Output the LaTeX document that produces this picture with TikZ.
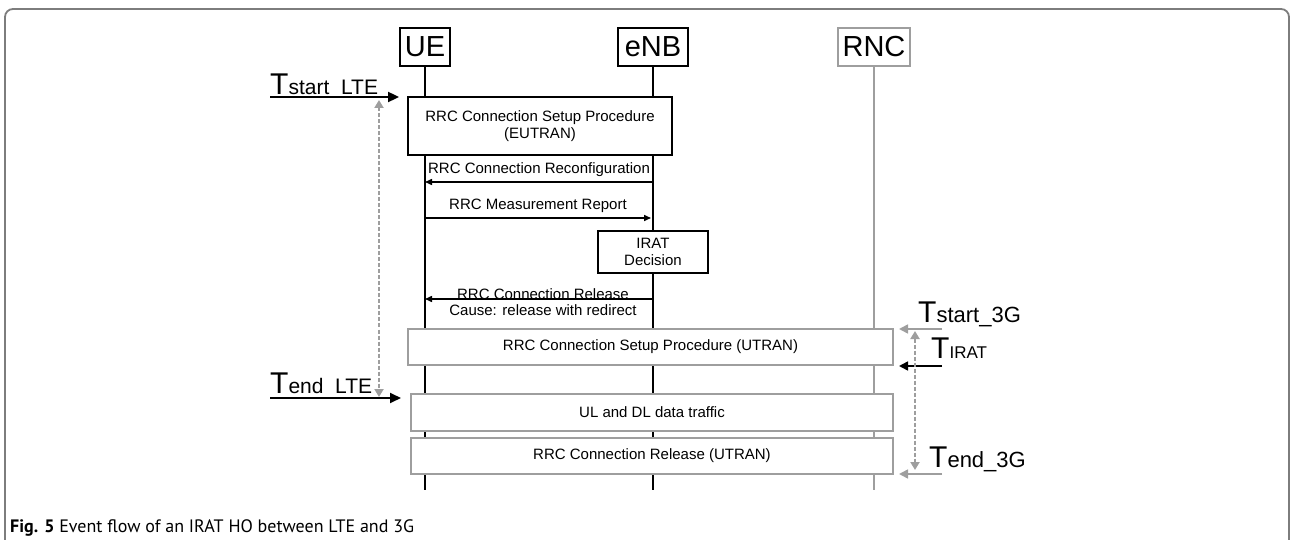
\documentclass[tikz,border=0pt]{standalone}
\usepackage{fontspec}
\setmainfont{Liberation Sans}
\newfontfamily\capfont{PT Sans}
\usetikzlibrary{arrows.meta}

\definecolor{lgray}{RGB}{158,158,158}
\definecolor{fgray}{RGB}{125,125,125}

\begin{document}
\begin{tikzpicture}[x=1pt, y=-1pt,
  hdr/.style={draw, rectangle, line width=1.6pt, inner sep=0pt, font=\fontsize{29}{29}\selectfont},
  blkbox/.style={draw, rectangle, fill=white, line width=1.8pt, inner sep=0pt, align=center, font=\fontsize{15}{17}\selectfont},
  grybox/.style={draw=lgray, rectangle, fill=white, line width=2pt, inner sep=0pt, align=center, font=\fontsize{15}{17}\selectfont},
  msg/.style={line width=1.5pt, -{Triangle[length=7pt, width=6pt]}},
  tarrow/.style={line width=1.8pt, -{Triangle[length=11pt, width=10pt]}},
  dbl/.style={draw=lgray, line width=2pt, dash pattern=on 4pt off 2pt, {Triangle[length=8pt, width=9pt]}-{Triangle[length=8pt, width=9pt]}},
  lbl/.style={inner sep=0pt, font=\fontsize{15}{17}\selectfont},
  tlbl/.style={inner sep=0pt, anchor=base west}]

\useasboundingbox (0,0) rectangle (1291,540);

% outer frame
\draw[fgray, line width=1.8pt, rounded corners=8pt] (5,541) -- (5,9) -- (1289,9) -- (1289,541);

% entities
\node[hdr, minimum width=50pt, minimum height=38pt] (ue) at (425,47) {UE};
\node[hdr, minimum width=70pt, minimum height=38pt] (enb) at (653,47) {eNB};
\node[hdr, draw=lgray, minimum width=72pt, minimum height=38pt] (rnc) at (874,47) {RNC};

% lifelines
\draw[line width=1.7pt] (ue.south) -- (ue |- 0,490);
\draw[line width=1.7pt] (enb.south) -- (enb |- 0,490);
\draw[lgray, line width=1.9pt] (rnc.south) -- (rnc |- 0,490);

% LTE part
\node[blkbox, minimum width=264pt, minimum height=58pt] (setupE) at (540,126) {RRC Connection Setup Procedure\\(EUTRAN)};

\draw[msg] (enb |- 0,182) -- (ue |- 0,182) node[lbl, midway, above=5pt] (reconf) {RRC Connection Reconfiguration};
\draw[msg] (ue |- 0,218) -- ([xshift=-2pt]enb |- 0,218) node[lbl, midway, above=5pt] (meas) {RRC Measurement Report};

\node[blkbox, minimum width=110pt, minimum height=42pt] (irat) at (653,252) {IRAT\\Decision};

\draw[msg] (enb |- 0,299) -- (ue |- 0,299);
\node[lbl, anchor=base] (rel) at (543,299) {RRC Connection Release};
\node[lbl, anchor=base] (cause) at (543,316) {Cause: release with redirect};

% UTRAN part
\node[grybox, minimum width=485pt, minimum height=36pt] (utran) at (650.5,347) {RRC Connection Setup Procedure (UTRAN)};
\node[grybox, minimum width=482pt, minimum height=37pt] (data) at (652,412) {UL and DL data traffic};
\node[grybox, minimum width=482pt, minimum height=36pt] (relU) at (652,456) {RRC Connection Release (UTRAN)};

% LTE timers
\node[tlbl] (tsl) at (270,95) {\fontsize{30}{30}\selectfont T\fontsize{21}{21}\selectfont start\ \ LTE};
\node[tlbl] (tel) at (270,393) {\fontsize{30}{30}\selectfont T\fontsize{21}{21}\selectfont end\ \ LTE};
\coordinate (tsA) at (270,97);
\coordinate (teA) at (270,398);
\draw[tarrow, shorten >=8pt] (tsA) -- (setupE.west |- tsA);
\draw[tarrow, shorten >=9pt] (teA) -- (data.west |- teA);
\coordinate (lteT) at (379,100);
\coordinate (lteB) at (379,397);
\draw[dbl] (lteT) -- (lteB);

% 3G timers
\node[tlbl] (ts3) at (918,322) {\fontsize{30}{30}\selectfont T\fontsize{22}{22}\selectfont start\_3G};
\node[tlbl] (tir) at (931,358) {\fontsize{30}{30}\selectfont T\fontsize{17}{17}\selectfont IRAT};
\node[tlbl] (te3) at (929,467) {\fontsize{30}{30}\selectfont T\fontsize{22}{22}\selectfont end\_3G};
\coordinate (tsB) at (942,329);
\coordinate (tiB) at (942,366);
\coordinate (teB) at (942,474);
\draw[tarrow, lgray, line width=1.6pt, -{Triangle[length=9pt, width=9pt]}, shorten >=5pt] (tsB) -- (utran.east |- tsB);
\draw[tarrow, line width=1.6pt, -{Triangle[length=9pt, width=9pt]}, shorten >=5pt] (tiB) -- (utran.east |- tiB);
\draw[tarrow, lgray, line width=1.6pt, -{Triangle[length=9pt, width=9pt]}, shorten >=5pt] (teB) -- (relU.east |- teB);
\coordinate (g3T) at (915,331);
\coordinate (g3B) at (915,470);
\draw[dbl] (g3T) -- (g3B);

% caption
\node[inner sep=0pt, anchor=base west] (cap) at (10,532) {\capfont\fontsize{18}{18}\selectfont\textbf{Fig. 5} Event flow of an IRAT HO between LTE and 3G};

\end{tikzpicture}
\end{document}
